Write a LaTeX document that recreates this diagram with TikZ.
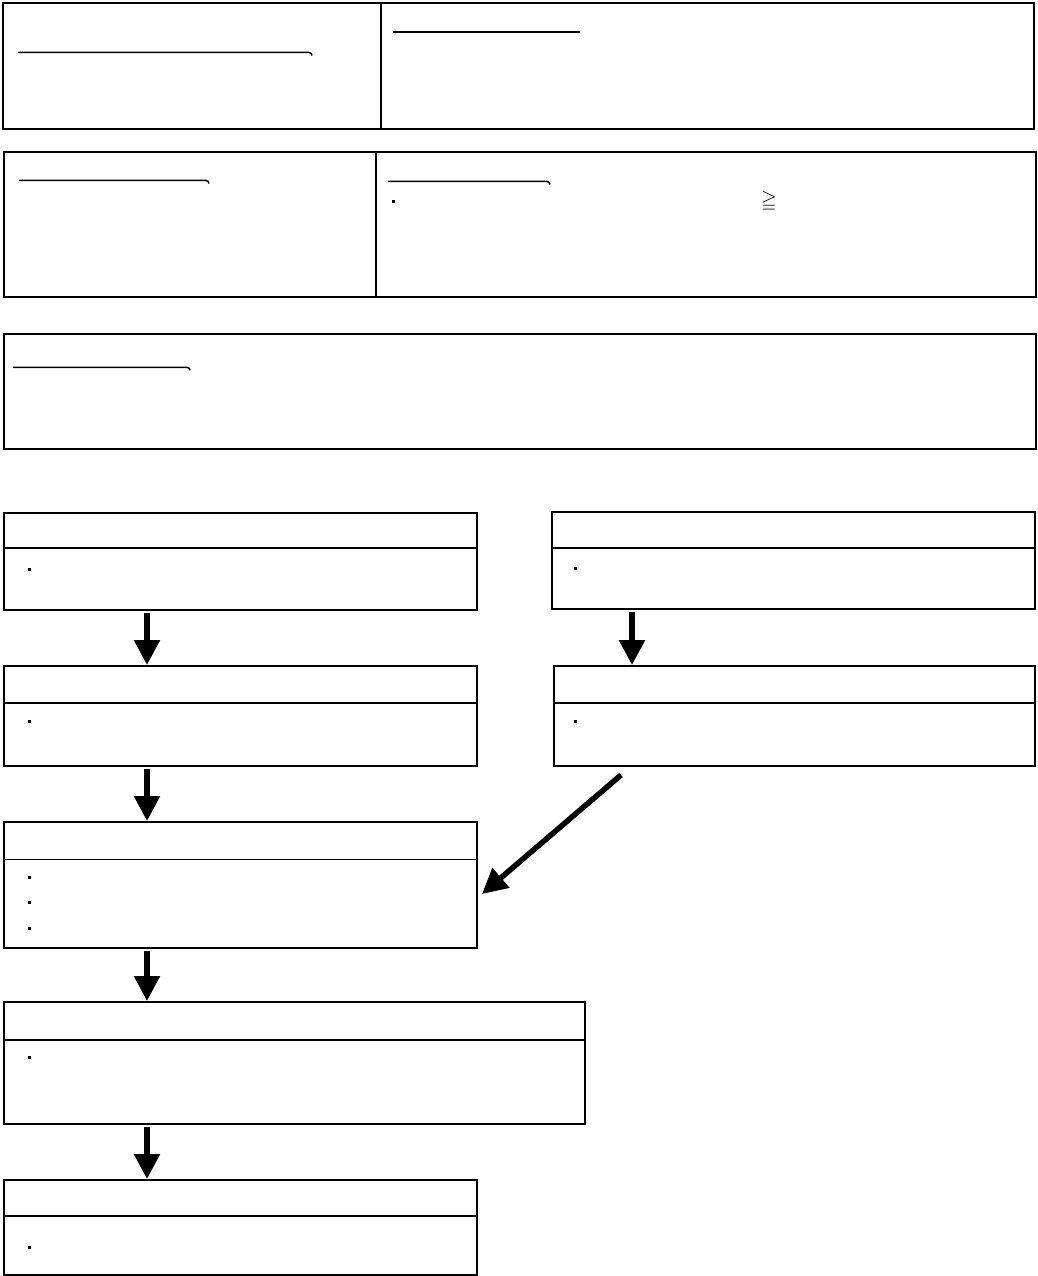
\documentclass[tikz,border=0pt]{standalone}
\usepackage{amssymb}
\usetikzlibrary{arrows.meta}
\begin{document}
\begin{tikzpicture}[x=1pt,y=-1pt,
  frame/.style={draw, line width=2pt, rectangle, inner sep=0pt, anchor=north west},
  fbox/.style={draw, line width=1.6pt, rectangle, inner sep=0pt, anchor=north west},
  divline/.style={line width=1.6pt},
  uline/.style={line width=1.5pt},
  bulletdot/.style={fill, inner sep=0pt, minimum size=3pt, rectangle},
  flowarrow/.style={line width=5.5pt, -{Triangle[width=25pt,length=25pt]}}
]
\useasboundingbox (0,0) rectangle (1037,1276);

% --- top frames ---
\node[frame, minimum width=1031pt, minimum height=126pt] (T1) at (2,2) {};
\draw[line width=2pt] (381,2) coordinate (t1a) -- (t1a |- T1.south);
\draw[uline] (18,52.5) -- (309,52.5) to[out=0,in=100] (312,55.5);
\draw[line width=2pt] (393,32) -- (580,32);

\node[frame, minimum width=1032pt, minimum height=145pt] (T2) at (3,151) {};
\draw[line width=2pt] (376,151) coordinate (t2a) -- (t2a |- T2.south);
\draw[uline] (19,180.5) -- (206,180.5) to[out=0,in=100] (209,183.5);
\draw[uline] (388,181.5) -- (547,181.5) to[out=0,in=100] (550,184.5);
\node[bulletdot] (b0) at (393,201.5) {};
\node[inner sep=0pt, font=\fontsize{20}{22}\selectfont] (geq) at (769,202) {$\geqq$};

\node[frame, minimum width=1032pt, minimum height=115pt] (T3) at (3,333) {};
\draw[uline] (13,367.3) -- (187,367.3) to[out=0,in=100] (190,370.3);

% --- flow boxes ---
\node[fbox, minimum width=473pt, minimum height=97pt] (A) at (3,512) {};
\draw[divline] ([yshift=-36]A.north west) -- ([yshift=-36]A.north east);
\node[bulletdot] (bA) at (29,569) {};

\node[fbox, minimum width=483pt, minimum height=97pt] (B) at (551,511) {};
\draw[divline] ([yshift=-37]B.north west) -- ([yshift=-37]B.north east);
\node[bulletdot] (bB) at (575,568) {};

\node[fbox, minimum width=473pt, minimum height=100pt] (C) at (3,665) {};
\draw[divline] ([yshift=-38]C.north west) -- ([yshift=-38]C.north east);
\node[bulletdot] (bC) at (29,721) {};

\node[fbox, minimum width=481pt, minimum height=100pt] (D) at (553,665) {};
\draw[divline] ([yshift=-38]D.north west) -- ([yshift=-38]D.north east);
\node[bulletdot] (bD) at (575,721) {};

\node[fbox, minimum width=473pt, minimum height=126pt] (E) at (3,821) {};
\draw[divline] ([yshift=-38.5]E.north west) -- ([yshift=-38.5]E.north east);
\node[bulletdot] (bE1) at (29,877) {};
\node[bulletdot] (bE2) at (29,902) {};
\node[bulletdot] (bE3) at (29,928) {};

\node[fbox, minimum width=581pt, minimum height=122pt] (F) at (3,1001) {};
\draw[divline] ([yshift=-39]F.north west) -- ([yshift=-39]F.north east);
\node[bulletdot] (bF) at (29,1057) {};

\node[fbox, minimum width=473pt, minimum height=95pt] (G) at (3,1179) {};
\draw[divline] ([yshift=-37]G.north west) -- ([yshift=-37]G.north east);
\node[bulletdot] (bG) at (29,1247) {};

% --- arrows ---
\coordinate (xl) at (147,0);
\coordinate (xr) at (632,0);
\draw[flowarrow] ([yshift=-2]A.south -| xl) -- (C.north -| xl);
\draw[flowarrow] ([yshift=-2]C.south -| xl) -- (E.north -| xl);
\draw[flowarrow] ([yshift=-2]E.south -| xl) -- (F.north -| xl);
\draw[flowarrow] ([yshift=-2]F.south -| xl) -- (G.north -| xl);
\draw[flowarrow] ([yshift=-2]B.south -| xr) -- (D.north -| xr);
\coordinate (dstart) at (621,775);
\coordinate (dend) at (482,894);
\draw[flowarrow] (dstart) -- (dend);
\end{tikzpicture}
\end{document}
